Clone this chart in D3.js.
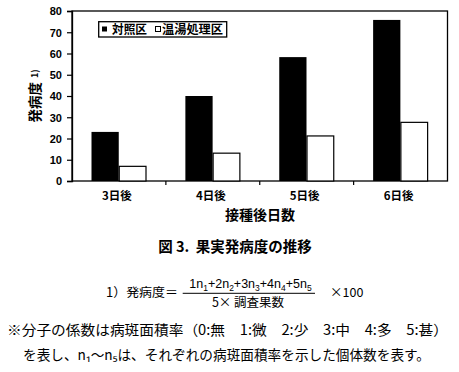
<!DOCTYPE html>
<html><head><meta charset="utf-8">
<script src="https://cdn.jsdelivr.net/npm/d3@7"></script>
<style>
html,body{margin:0;padding:0;background:#fff;}
svg{display:block;}
text{font-family:"Noto Sans CJK JP","Noto Sans",sans-serif;fill:#000;}
</style></head>
<body>
<script>
// ---- data ----
const categories = ["3日後", "4日後", "5日後", "6日後"];
const seriesNames = ["対照区", "温湯処理区"];
const controlValues = [23.1, 40.0, 58.3, 75.8];
const hotWaterValues = [6.9, 13.1, 21.2, 27.6];
const yTicks = [0, 10, 20, 30, 40, 50, 60, 70, 80];
const yTitle = "発病度";
const xTitle = "接種後日数";
const caption = "図 3.  果実発病度の推移";

const W = 459, H = 372;
const svg = d3.select("body").append("svg").attr("width", W).attr("height", H);

const pL = 72, pR = 447.5, pT = 11, pB = 181;
const x = d3.scaleBand().domain(categories).range([pL, pR]).padding(0);
const inner = d3.scaleBand().domain(seriesNames).range([19.5, 74]).padding(0);
const y = d3.scaleLinear().domain([0, 80]).range([pB, pT]);

// frame
svg.append("rect").attr("x", pL).attr("y", pT).attr("width", pR - pL).attr("height", pB - pT)
  .attr("fill", "none").attr("stroke", "#000").attr("stroke-width", 1.3);

// bars
const rows = categories.map((c, i) => ({c, vals: [controlValues[i], hotWaterValues[i]]}));
const g = svg.selectAll("g.grp").data(rows).enter().append("g").attr("transform", d => `translate(${x(d.c)},0)`);
g.selectAll("rect").data(d => d.vals.map((v, j) => ({v, s: seriesNames[j], j}))).enter().append("rect")
  .attr("x", d => inner(d.s) + (d.j ? 0.5 : 0))
  .attr("width", d => inner.bandwidth() - (d.j ? 0.5 : 0))
  .attr("y", d => y(d.v))
  .attr("height", d => pB - y(d.v))
  .attr("fill", d => d.j ? "#fff" : "#000")
  .attr("stroke", d => d.j ? "#000" : "none")
  .attr("stroke-width", 1.2);

// y axis
const yAxis = svg.append("g").attr("transform", `translate(${pL},0)`)
  .call(d3.axisLeft(y).tickValues(yTicks).tickSize(5).tickPadding(5));
yAxis.select(".domain").attr("stroke-width", 1.3);
yAxis.selectAll(".tick line").attr("stroke-width", 1.2);
yAxis.selectAll(".tick text").style("font-family", "'Liberation Sans',Arial,sans-serif")
  .style("font-weight", "bold").style("font-size", "11px").attr("dy", "0.35em");

// x axis (ticks at band boundaries)
const xb = categories.slice(1).map(c => x(c));
svg.selectAll("line.xt").data(xb).enter().append("line")
  .attr("x1", d => d).attr("x2", d => d).attr("y1", pB).attr("y2", pB + 4)
  .attr("stroke", "#000").attr("stroke-width", 1.2);
svg.selectAll("text.xl").data(categories).enter().append("text")
  .attr("x", d => x(d) + x.bandwidth() / 2 - 2).attr("y", 200)
  .attr("text-anchor", "middle").style("font-weight", "bold").style("font-size", "11.5px")
  .text(d => d);

// axis titles
svg.append("text").attr("x", 260).attr("y", 220).attr("text-anchor", "middle")
  .style("font-weight", "bold").style("font-size", "14px").text(xTitle);
const yt = svg.append("text").attr("transform", "translate(40,96) rotate(-90)").attr("text-anchor", "middle")
  .style("font-weight", "bold").style("font-size", "13.5px");
yt.append("tspan").text(yTitle);
yt.append("tspan").attr("dx", 4).style("font-size", "9px").attr("dy", -2).text("1)");

// legend
svg.append("rect").attr("x", 98.7).attr("y", 21.7).attr("width", 128).attr("height", 15.3)
  .attr("fill", "#fff").attr("stroke", "#000").attr("stroke-width", 1.3);
svg.append("rect").attr("x", 102).attr("y", 26.5).attr("width", 5).attr("height", 5).attr("fill", "#000");
svg.append("text").attr("x", 112).attr("y", 33.8).style("font-weight", "bold").style("font-size", "12px")
  .attr("textLength", 35).attr("lengthAdjust", "spacingAndGlyphs").text(seriesNames[0]);
svg.append("rect").attr("x", 155.5).attr("y", 26.5).attr("width", 5).attr("height", 5)
  .attr("fill", "#fff").attr("stroke", "#000").attr("stroke-width", 1);
svg.append("text").attr("x", 162).attr("y", 33.8).style("font-weight", "bold").style("font-size", "12px")
  .attr("textLength", 61).attr("lengthAdjust", "spacingAndGlyphs").text(seriesNames[1]);

// caption
svg.append("text").attr("x", 235).attr("y", 252).attr("text-anchor", "middle")
  .style("font-weight", "bold").style("font-size", "14.5px").attr("xml:space", "preserve").text(caption);

// formula
svg.append("text").attr("x", 106).attr("y", 297).style("font-size", "12.5px")
  .attr("textLength", 72).attr("lengthAdjust", "spacingAndGlyphs").text("1）発病度＝");
const num = svg.append("text").attr("x", 250.5).attr("y", 287.5).attr("text-anchor", "middle")
  .style("font-size", "12.5px").style("font-family", "'Liberation Sans',Arial,sans-serif");
[1, 2, 3, 4, 5].forEach((k, i) => {
  num.append("tspan").attr("dy", i ? -3 : 0).text((i ? "+" : "") + k + "n");
  num.append("tspan").attr("dy", 3).style("font-size", "8.5px").text(k);
});
svg.append("line").attr("x1", 182.7).attr("x2", 315).attr("y1", 293.3).attr("y2", 293.3)
  .attr("stroke", "#000").attr("stroke-width", 1);
svg.append("text").attr("x", 248).attr("y", 306.5).attr("text-anchor", "middle")
  .style("font-size", "12.5px").text("5× 調査果数");
svg.append("text").attr("x", 330).attr("y", 297).style("font-size", "12.5px").text("×100");

// note
svg.append("text").attr("x", 7).attr("y", 335).style("font-size", "14px")
  .attr("textLength", 441).attr("lengthAdjust", "spacingAndGlyphs")
  .text("※分子の係数は病斑面積率（0:無　1:微　2:少　3:中　4:多　5:甚）");
svg.append("text").attr("x", 23).attr("y", 360).style("font-size", "14px")
  .attr("textLength", 407).attr("lengthAdjust", "spacingAndGlyphs")
  .text("を表し、n₁～n₅は、それぞれの病斑面積率を示した個体数を表す。");
</script>
</body></html>
